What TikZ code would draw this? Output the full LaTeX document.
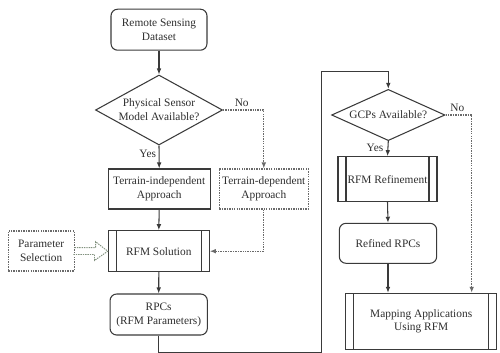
\documentclass[tikz,border=0pt]{standalone}
\usepackage{fontspec}
\setmainfont{Liberation Serif}
\usetikzlibrary{shapes.geometric,arrows.meta}
\definecolor{ln}{HTML}{3A3A3A}
\definecolor{dl}{HTML}{6A6A6A}
\definecolor{hol}{HTML}{82927F}
\definecolor{txt}{HTML}{2E2E2E}
\begin{document}
\begin{tikzpicture}[x=0.03cm,y=-0.03cm,
  font=\fontsize{9.7}{11.9}\selectfont,
  box/.style={draw=ln, line width=0.9pt, align=center, inner sep=0pt, text=txt},
  rbox/.style={box, rounded corners=0.2cm},
  dbox/.style={box, draw=dl, dash pattern=on 1.2pt off 0.9pt},
  proc/.style={box, path picture={
     \draw[ln,line width=0.9pt] ([xshift=0.24cm]path picture bounding box.north west) -- ([xshift=0.24cm]path picture bounding box.south west);
     \draw[ln,line width=0.9pt] ([xshift=-0.24cm]path picture bounding box.north east) -- ([xshift=-0.24cm]path picture bounding box.south east);}},
  dec/.style={box, diamond, aspect=1.8},
  arr/.style={draw=ln, line width=0.9pt, -{Latex[length=0.18cm,width=0.14cm]}},
  darr/.style={arr, draw=dl, dash pattern=on 1.2pt off 0.9pt},
  lab/.style={text=txt, inner sep=0pt}]
\useasboundingbox (0,0) rectangle (500,352);

% left column
\node[rbox, minimum width=2.88cm, minimum height=1.23cm] (rs) at (159,29.7) {Remote Sensing\\Dataset};
\node[dec, minimum width=3.81cm, minimum height=2.1cm] (d1) at (159,110) {Physical Sensor\\Model Available?};
\node[box, minimum width=3.05cm, minimum height=1.2cm] (ti) at (159.2,189) {Terrain-independent\\Approach};
\node[dbox, minimum width=2.67cm, minimum height=1.2cm] (td) at (263.8,189) {Terrain-dependent\\Approach};
\node[proc, minimum width=3.03cm, minimum height=1.23cm] (rfm) at (158.8,251.2) {RFM Solution};
\node[dbox, minimum width=1.97cm, minimum height=1.2cm] (ps) at (41.2,251) {Parameter\\Selection};
\node[rbox, minimum width=2.92cm, minimum height=1.23cm] (rpcs) at (158.7,314.5) {RPCs\\(RFM Parameters)};

\node[lab] (no1) at (241.7,102.7) {No};
\node[lab] (yes1) at (147.7,154) {Yes};

\draw[arr] (rs.south) -- (d1.north);
\draw[arr] (d1.south) -- (ti.north);
\draw[darr] (d1.east) -| (td.north);
\draw[arr] (ti.south) -- (rfm.north);
\draw[darr] (td.south) |- (rfm.east);
\draw[arr] (rfm.south) -- (rpcs.north);
\draw[hol, line width=0.8pt, dash pattern=on 1.2pt off 0.8pt]
  (ps.east) ++(0,-3.3) -- ++(21,0) -- ++(0,-6) -- (rfm.west) -- ++(-13.3,9.3) -- ++(0,-6) -- ++(-21,0);

% right column
\node[dec, minimum width=3.40cm, minimum height=1.45cm] (gcp) at (388.3,115) {GCPs Available?};
\node[proc, minimum width=2.97cm, minimum height=1.35cm] (ref) at (387.5,179.2) {RFM Refinement};
\node[rbox, minimum width=2.92cm, minimum height=1.2cm] (rr) at (388,243.3) {Refined RPCs};
\node[proc, minimum width=4.53cm, minimum height=1.68cm] (map) at (421.2,321.3) {Mapping Applications\\Using RFM};

\node[lab] (no2) at (457.3,107.7) {No};
\node[lab] (yes2) at (375,148.3) {Yes};

\coordinate (b1) at (321.7,352.7);
\coordinate (t1) at (321.7,71.7);
\draw[arr] (rpcs.south) |- (b1) -- (t1) -| (gcp.north);
\draw[arr] (gcp.south) -- (ref.north);
\draw[darr] (gcp.east) -| ([xshift=1.515cm]map.north);
\draw[arr] (ref.south) -- (rr.north);
\draw[arr] (rr.south) -- (rr.south |- map.north);
\end{tikzpicture}
\end{document}
